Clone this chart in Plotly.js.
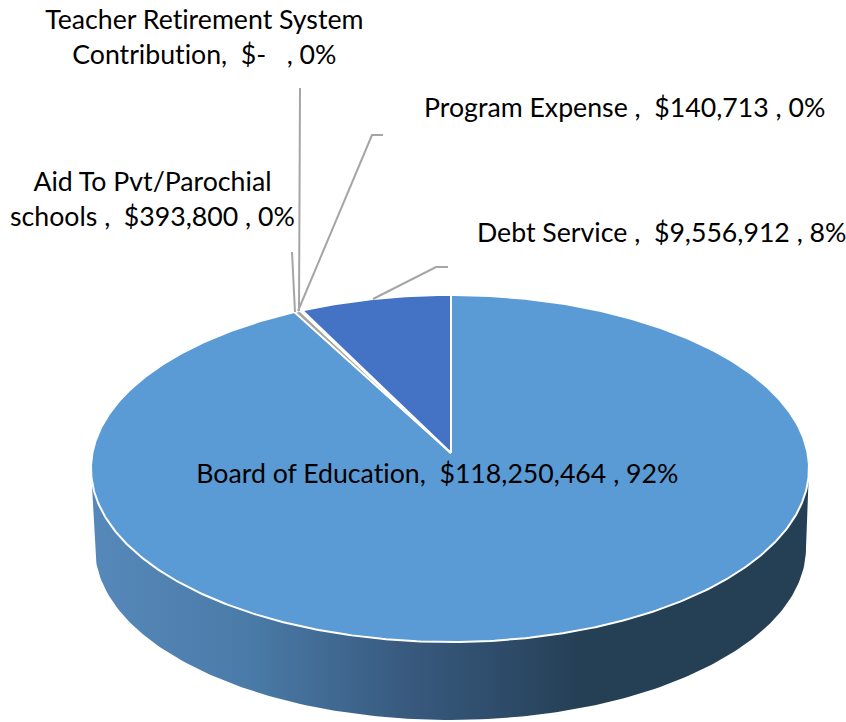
<!DOCTYPE html>
<html>
<head>
<meta charset="utf-8">
<script src="https://cdn.plot.ly/plotly-3.0.1.min.js"></script>
<style>html,body{margin:0;padding:0;background:#fff}#chart{width:846px;height:722px}.annotation text{font-variant-ligatures:none !important;font-feature-settings:"liga" 0,"clig" 0 !important}</style>
</head>
<body>
<div id="chart"></div>
<script>
// Data, clockwise from 12 o'clock
const categories = ["Board of Education", "Aid To Pvt/Parochial schools", "Teacher Retirement System Contribution", "Program Expense", "Debt Service"];
const values = [118250464, 393800, 0, 140713, 9556912];
const labels = [
  "Board of Education,\u00A0 $118,250,464 , 92%",
  "Aid To Pvt/Parochial<br>schools ,\u00A0 $393,800 , 0%",
  "Teacher Retirement System<br>Contribution,\u00A0 $-\u00A0\u00A0 , 0%",
  "Program Expense ,\u00A0 $140,713 , 0%",
  "Debt Service ,\u00A0 $9,556,912 , 8%"
];
const sliceColors = ["#5B9BD5", "#A5A5A5", "#ED7D31", "#FFC000", "#4472C4"];

// Layout geometry of the tilted disc (pixel-scaled axes)
const top_ = {cx: 450, cy: 468.5, rx: 359, ry: 173.5};
const bottom_ = {cx: 450.5, cy: 548, rx: 355.5, ry: 172};
const apex = {x: 451, y: 453};
const tilt = 174;
const labelPos = [[437.5, 473], [152, 198.5], [204.5, 36], [624, 107], [661, 232]];
const leaders = [
  null,
  [[295, 312], [292, 252]],
  [[299, 311], [300, 88]],
  [[298, 311], [372, 135], [383, 135]],
  [[373, 299], [436, 267], [448, 267]]
];

// A ray from the apex at pie angle a (clockwise from top) meets the rim here
function rim(a) {
  const dx = Math.sin(a) * top_.rx, dy = -Math.cos(a) * tilt;
  const ox = (apex.x - top_.cx) / top_.rx, oy = (apex.y - top_.cy) / top_.ry;
  const ux = dx / top_.rx, uy = dy / top_.ry;
  const A = ux * ux + uy * uy, B = 2 * (ox * ux + oy * uy), C = ox * ox + oy * oy - 1;
  const t = (-B + Math.sqrt(B * B - 4 * A * C)) / (2 * A);
  return [apex.x + dx * t, apex.y + dy * t];
}

const total = values.reduce((s, v) => s + v, 0);
const traces = [];

// Side wall
const wx = [top_.cx - top_.rx], wy = [top_.cy];
for (let d = 180; d >= 0; d -= 1) {
  const r = d * Math.PI / 180;
  wx.push(bottom_.cx + bottom_.rx * Math.cos(r));
  wy.push(bottom_.cy + bottom_.ry * Math.sin(r));
}
wx.push(top_.cx + top_.rx); wy.push(top_.cy);
traces.push({
  type: "scatter", mode: "lines", x: wx, y: wy, fill: "toself",
  line: {width: 0, color: "rgba(0,0,0,0)"}, hoverinfo: "skip", showlegend: false,
  fillgradient: {type: "horizontal", colorscale: [
    [0, "#5688BA"], [0.22, "#4A7BA8"], [0.43, "#395B80"], [0.57, "#2E4C6A"], [0.68, "#253F55"], [1, "#253F55"]
  ]}
});

// Slices
let cum = 0;
values.forEach((v, i) => {
  const a0 = cum / total * 2 * Math.PI;
  cum += v;
  const a1 = cum / total * 2 * Math.PI;
  if (v === 0) return;
  const xs = [apex.x], ys = [apex.y];
  const n = Math.max(2, Math.ceil((a1 - a0) / 0.01));
  for (let k = 0; k <= n; k++) {
    const p = rim(a0 + (a1 - a0) * k / n);
    xs.push(p[0]); ys.push(p[1]);
  }
  xs.push(apex.x); ys.push(apex.y);
  traces.push({
    type: "scatter", mode: "lines", x: xs, y: ys, fill: "toself", name: categories[i],
    fillcolor: sliceColors[i], line: {color: "#FFFFFF", width: 2},
    hoveron: "fills", text: labels[i].replace("<br>", " "), hoverinfo: "text", showlegend: false
  });
});

// Leader lines
leaders.forEach((pts) => {
  if (!pts) return;
  traces.push({
    type: "scatter", mode: "lines", x: pts.map(p => p[0]), y: pts.map(p => p[1]),
    line: {color: "#A5A5A5", width: 2}, hoverinfo: "skip", showlegend: false
  });
});

const layout = {
  width: 846, height: 722, margin: {l: 0, r: 0, t: 0, b: 0},
  paper_bgcolor: "#fff", plot_bgcolor: "#fff", showlegend: false,
  xaxis: {range: [0, 846], visible: false, fixedrange: true},
  yaxis: {range: [722, 0], visible: false, fixedrange: true},
  annotations: labels.map((t, i) => ({
    text: t, x: labelPos[i][0], y: labelPos[i][1], xref: "x", yref: "y",
    showarrow: false, xanchor: "center", yanchor: "middle", align: "center",
    font: {family: "Lato, Carlito, sans-serif", size: 26.7, color: "#000"}
  }))
};
Plotly.newPlot("chart", traces, layout, {displayModeBar: false, responsive: false});
</script>
</body>
</html>
